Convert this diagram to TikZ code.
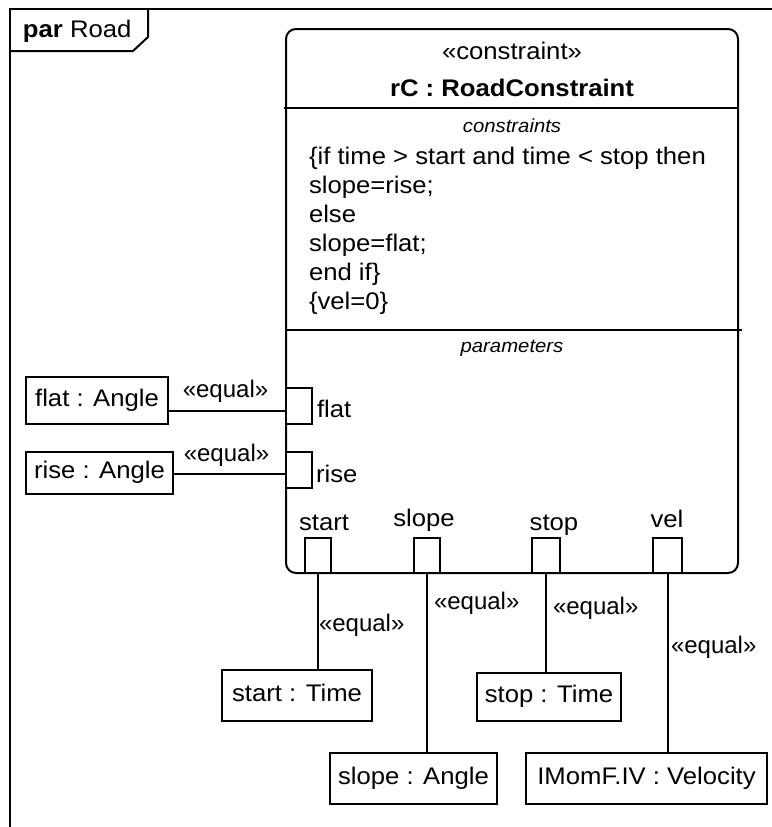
\documentclass[tikz,border=0pt]{standalone}
\usepackage{fontspec}
\setmainfont{Liberation Sans}[FakeStretch=1.07]
\newfontfamily\plainfont{Liberation Sans}
\begin{document}
\begin{tikzpicture}[x=1pt,y=-1pt,line width=2pt,
  font=\fontsize{24}{29}\selectfont,
  box/.style={draw,rectangle,inner sep=0pt,text height=17pt,text depth=6pt,fill=white},
  port/.style={draw,rectangle,inner sep=0pt,minimum width=26pt,minimum height=35pt,fill=white},
  lbl/.style={inner sep=0pt,anchor=base},
  lblw/.style={inner sep=0pt,anchor=base west},
  eq/.style={font=\fontsize{24}{29}\plainfont},
  small/.style={font=\fontsize{19}{23}\selectfont\itshape},
  conn/.style={line width=2pt}]
\useasboundingbox (0,0) rectangle (771,827);
% frame
\draw (10,828) -- (10,9) -- (772,9);
\draw (10,51) -- (133,51) -- (148,37) -- (148,9);
\node[lblw] (frametitle) at (22,37.5) {\textbf{par} Road};
% constraint block
\node[draw,rounded corners=10pt,inner sep=0pt,minimum width=452pt,minimum height=544pt] (rc) at (512,301) {};
\draw (284,108) -- (738,108);
\draw (286,330) -- (742,330);
\node[lbl] (stereo) at (512,59) {«constraint»};
\node[lbl] (title) at (512,96.5) {\bfseries rC : RoadConstraint};
\node[lbl,small] (ctitle) at (512,132) {constraints};
\node[lblw] (c1) at (308,164) {\{if time > start and time < stop then};
\node[lblw] (c2) at (308,193) {slope=rise;};
\node[lblw] (c3) at (308,222) {else};
\node[lblw] (c4) at (308,251) {slope=flat;};
\node[lblw] (c5) at (308,280) {end if\}};
\node[lblw] (c6) at (308,309) {\{vel=0\}};
\node[lbl,small] (ptitle) at (512,352) {parameters};
% left ports and boxes
\node[port,minimum height=36pt] (flatport) at (299,406) {};
\node[port,minimum height=36pt] (riseport) at (299,470) {};
\node[lblw] (flatlbl) at (316,417) {flat};
\node[lblw] (riselbl) at (315,482) {rise};
\node[box,minimum width=142pt,minimum height=47pt] (fbox) at (97,400.5) {flat : Angle};
\node[box,minimum width=147pt,minimum height=42pt] (rbox) at (99.5,473) {rise : Angle};
\draw[conn] ([yshift=-10.5pt]fbox.east) -- ([yshift=-10.5pt]fbox.east -| flatport.west);
\draw[conn] ([yshift=-1pt]rbox.east) -- ([yshift=-1pt]rbox.east -| riseport.west);
\node[lbl,eq] (eqf) at (225.5,397) {«equal»};
\node[lbl,eq] (eqr) at (226.5,461.7) {«equal»};
% bottom ports
\node[port] (startport) at (318,555.5) {};
\node[port] (slopeport) at (427,555.5) {};
\node[port,minimum width=28pt] (stopport) at (546,555.5) {};
\node[port,minimum width=29pt] (velport) at (667.5,555.5) {};
\node[lbl] (startlbl) at (324,530.7) {start};
\node[lbl] (slopelbl) at (424,526.7) {slope};
\node[lbl] (stoplbl) at (554,530.7) {stop};
\node[lbl] (vellbl) at (667,527.7) {vel};
% bottom boxes
\node[box,minimum width=150pt,minimum height=51pt] (startbox) at (297,695.5) {start : Time};
\node[box,minimum width=167pt,minimum height=51pt] (slopebox) at (413.5,778.5) {slope : Angle};
\node[box,minimum width=144pt,minimum height=48pt] (stopbox) at (549,697) {stop : Time};
\node[box,minimum width=241pt,minimum height=51pt] (velbox) at (646.5,778.5) {IMomF.IV : Velocity};
\draw[conn] (startport.south) -- (startport.south |- startbox.north);
\draw[conn] (slopeport.south) -- (slopeport.south |- slopebox.north);
\draw[conn] (stopport.south) -- (stopport.south |- stopbox.north);
\draw[conn] (velport.south) -- (velport.south |- velbox.north);
\node[lblw,eq] (eqs) at (318,631.7) {«equal»};
\node[lblw,eq] (eqsl) at (433,609.3) {«equal»};
\node[lblw,eq] (eqst) at (552,614.3) {«equal»};
\node[lblw,eq] (eqv) at (670,653.3) {«equal»};
\end{tikzpicture}
\end{document}
